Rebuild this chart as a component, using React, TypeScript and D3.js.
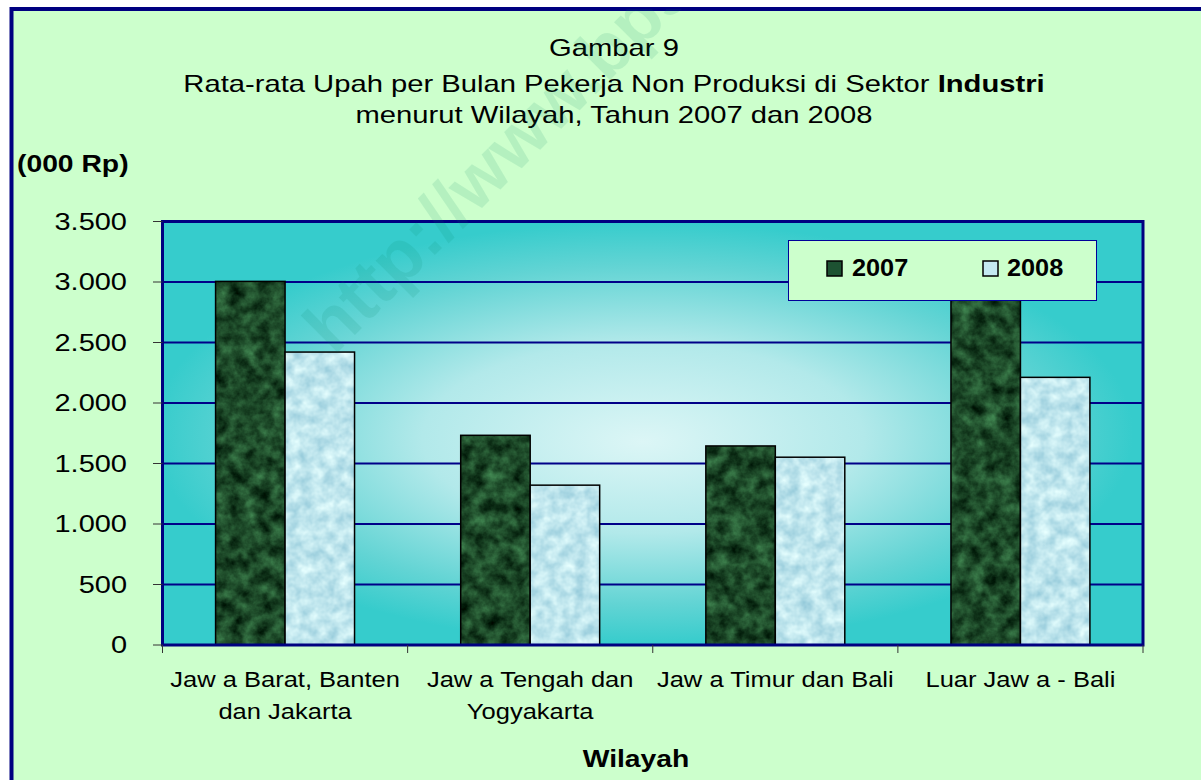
import React from 'react';
import * as d3 from 'd3';

const categories = [
    ['Jaw a Barat, Banten', 'dan Jakarta'],
    ['Jaw a Tengah dan', 'Yogyakarta'],
    ['Jaw a Timur dan Bali'],
    ['Luar Jaw a - Bali'],
];
const series = ['2007', '2008'];
const values2007 = [3005, 1733, 1645, 2950];
const values2008 = [2421, 1321, 1552, 2212];
const tickValues = [0, 500, 1000, 1500, 2000, 2500, 3000, 3500];

const FONT = '"Liberation Sans", Arial, sans-serif';

// the source text is drawn a bit wider than normal, so every label gets a horizontal stretch
const T = ({ x, y, anchor = 'middle', size = 23, weight = 'normal', sx = 1.18, children }: any) => (
    <text
        transform={`translate(${x},${y}) scale(${sx},1)`}
        textAnchor={anchor}
        fontSize={size}
        fontWeight={weight}
        fontFamily={FONT}
        fill="#000"
    >
        {children}
    </text>
);

const App = () => {
    const width = 1201;
    const height = 780;
    const plot = { left: 162.5, top: 221.5, right: 1143, bottom: 645 };

    const x0 = d3.scaleBand<number>()
        .domain(categories.map((_, i) => i))
        .range([plot.left, plot.right]);
    const x1 = d3.scaleBand<string>()
        .domain(series)
        .range([0, x0.bandwidth()])
        .paddingOuter(0.764);
    const y = d3.scaleLinear().domain([0, 3500]).range([plot.bottom, plot.top]);
    const fmt = d3.formatLocale({ decimal: ',', thousands: '.', grouping: [3], currency: ['', ''] }).format(',d');

    const data = series.map((s, si) => ({
        key: s,
        values: si === 0 ? values2007 : values2008,
    }));
    const fills = { '2007': '#1d5232', '2008': '#c4e9f1' } as any;
    const filters = { '2007': 'url(#marble)', '2008': 'url(#water)' } as any;

    const boundaries = [...x0.domain().map(d => x0(d) as number), plot.right];

    return (
        <svg width={width} height={height} style={{ position: 'absolute', left: 0, top: 0 }}>
            <defs>
                <radialGradient id="plotBg" cx="0.49" cy="0.5" r="0.5" fx="0.49" fy="0.52">
                    <stop offset="0" stopColor="#dcf6f6" />
                    <stop offset="0.45" stopColor="#b2e9ea" />
                    <stop offset="0.8" stopColor="#62d4d4" />
                    <stop offset="1" stopColor="#36cccc" />
                </radialGradient>
                <filter id="marble" x="0" y="0" width="1" height="1" colorInterpolationFilters="sRGB">
                    <feTurbulence type="fractalNoise" baseFrequency="0.07" numOctaves="4" seed="7" />
                    <feColorMatrix type="matrix" values="0.35 0 0 0 -0.06  0.6 0 0 0 -0.01  0.4 0 0 0 -0.04  0 0 0 0 1" />
                    <feComposite in2="SourceGraphic" operator="in" />
                </filter>
                <filter id="water" x="0" y="0" width="1" height="1" colorInterpolationFilters="sRGB">
                    <feTurbulence type="fractalNoise" baseFrequency="0.08" numOctaves="3" seed="11" />
                    <feColorMatrix type="matrix" values="0.4 0 0 0 0.55  0.26 0 0 0 0.77  0.18 0 0 0 0.84  0 0 0 0 1" />
                    <feComposite in2="SourceGraphic" operator="in" />
                </filter>
                <clipPath id="chartClip">
                    <rect x={12} y={9} width={1300} height={900} />
                </clipPath>
            </defs>

            <rect x={0} y={0} width={width} height={height} fill="#fff" />
            <rect x={11.5} y={9} width={1300} height={900} fill="#ccffcc" stroke="#000080" strokeWidth={4} />

            {/* plot area */}
            <rect x={plot.left} y={plot.top} width={plot.right - plot.left} height={plot.bottom - plot.top} fill="url(#plotBg)" />

            {tickValues.filter(v => v > 0 && v < 3500).map(v => (
                <line key={v} x1={plot.left} x2={plot.right} y1={y(v)} y2={y(v)} stroke="#000088" strokeWidth={2} />
            ))}

            {data.map(s => s.values.map((v, i) => {
                const bx = (x0(i) as number) + (x1(s.key) as number);
                return (
                    <g key={`${s.key}-${i}`}>
                        <rect x={bx} y={y(v)} width={x1.bandwidth()} height={plot.bottom - y(v)} fill={fills[s.key]} filter={filters[s.key]} />
                        <rect x={bx} y={y(v)} width={x1.bandwidth()} height={plot.bottom - y(v)} fill="none" stroke="#000" strokeWidth={1.5} />
                    </g>
                );
            }))}

            <rect x={plot.left} y={plot.top} width={plot.right - plot.left} height={plot.bottom - plot.top} fill="none" stroke="#000080" strokeWidth={3} />

            {/* ticks */}
            {tickValues.map(v => (
                <line key={v} x1={153} x2={plot.left} y1={y(v)} y2={y(v)} stroke="#333" strokeWidth={1} />
            ))}
            {boundaries.map((b, i) => (
                <line key={i} x1={b} x2={b} y1={plot.bottom} y2={plot.bottom + 8} stroke="#333" strokeWidth={1} />
            ))}

            {tickValues.map(v => (
                <T key={v} x={127} y={y(v) + 8} anchor="end" sx={1.26}>{fmt(v)}</T>
            ))}

            {categories.map((lines, i) => lines.map((l, li) => (
                <T key={`${i}-${li}`} x={(x0(i) as number) + x0.bandwidth() / 2} y={687 + li * 32} size={22} sx={1.16}>{l}</T>
            )))}

            {/* legend */}
            <rect x={788.5} y={240.5} width={308} height={60} fill="#ccffcc" stroke="#000099" strokeWidth={1} />
            {series.map((s, i) => (
                <g key={s}>
                    <rect x={827 + i * 156} y={261} width={15} height={15} fill={fills[s]} stroke="#000" strokeWidth={1.5} />
                    <T x={852 + i * 155} y={276} anchor="start" weight="bold" sx={1.1}>{s}</T>
                </g>
            ))}

            {/* titles */}
            <T x={614} y={56} sx={1.27}>Gambar 9</T>
            <T x={614} y={92} sx={1.27}>
                Rata-rata Upah per Bulan Pekerja Non Produksi di Sektor <tspan fontWeight="bold">Industri</tspan>
            </T>
            <T x={614} y={123} sx={1.27}>menurut Wilayah, Tahun 2007 dan 2008</T>
            <T x={17} y={172} anchor="start" weight="bold" sx={1.23}>(000 Rp)</T>
            <T x={636} y={767} weight="bold" sx={1.23}>Wilayah</T>

            {/* watermark */}
            <g clipPath="url(#chartClip)">
                <text
                    transform="translate(334,356) rotate(-45)"
                    fontSize={72}
                    fontWeight="bold"
                    fontFamily={FONT}
                    fill="#008060"
                    opacity={0.11}
                >
                    http://www.bps.go.id
                </text>
            </g>
        </svg>
    );
};

export default App;
